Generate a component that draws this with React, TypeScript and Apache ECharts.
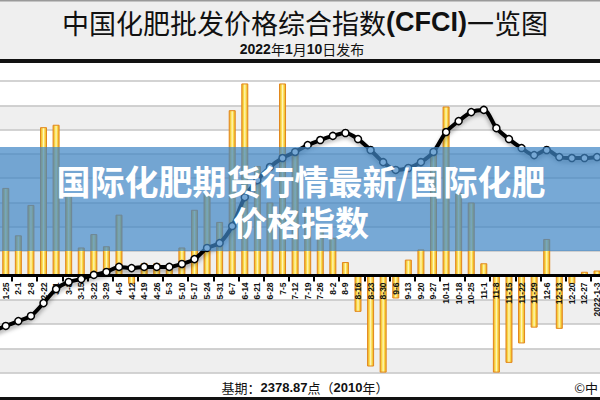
import React, { useEffect, useRef } from "react";
import * as echarts from "echarts";

const categories = ['1-18','1-25','2-1','2-8','2-22','3-1','3-8','3-15','3-22','3-29','4-5','4-12','4-19','4-26','5-3','5-10','5-17','5-24','5-31','6-7','6-14','6-21','6-28','7-5','7-12','7-19','7-26','8-2','8-9','8-16','8-23','8-30','9-6','9-13','9-20','9-27','10-11','10-18','10-25','11-1','11-8','11-15','11-22','11-29','12-6','12-13','12-20','12-27','2022-1-3','2022-1-10'];

const changeValues = [2.0, 3.6, 1.65, 2.9, 6.1, 6.2, 3.3, 1.15, 1.7, 1.2,
  2.5, -0.35, 0.5, 0.5, 0.4, 1.15, 2.7, 3.4, 2.2, 6.8,
  7.9, 4.5, 3.0, 7.9, 5.0, 2.8, 1.9, 1.55, 0.55, -1.5,
  -3.75, -4.0, -0.95, 0.65, 1.07, 5.1, 6.95, 3.4, 3.0, 0.5,
  -4.0, -3.6, -2.8, -2.15, 1.5, -2.2, -0.35, 0.15, 0.2, 0.2];

const indexValues = [2371, 2392, 2412, 2433, 2486, 2544, 2573, 2585, 2602, 2614,
  2635, 2630, 2635, 2635, 2635, 2647, 2667, 2713, 2733, 2803,
  2922, 2992, 3046, 3083, 3108, 3136, 3157, 3174, 3186, 3161,
  3116, 3066, 3034, 3042, 3066, 3108, 3190, 3235, 3272, 3281,
  3206, 3161, 3124, 3095, 3116, 3087, 3083, 3083, 3087, 3091];

const titleText = "中国化肥批发价格综合指数";
const titleCode = "(CFCI)";
const titleTail = "一览图";
const bannerLine1 = "国际化肥期货行情最新/国际化肥";
const bannerLine2 = "价格指数";

export default function App() {
  const ref = useRef<HTMLDivElement>(null);
  useEffect(() => {
    document.body.style.margin = "0";
    const chart = echarts.init(ref.current!, null, { renderer: "svg" });
    const cjk = "'Noto Sans CJK SC', sans-serif";
    const lat = "'Liberation Sans', Arial, sans-serif";
    const barColor = new echarts.graphic.LinearGradient(0, 0, 1, 0, [
      { offset: 0, color: "#eea62a" },
      { offset: 0.28, color: "#f9da45" },
      { offset: 0.5, color: "#fff6bd" },
      { offset: 0.72, color: "#f9da45" },
      { offset: 1, color: "#eea62a" },
    ]);
    const gridTop = 81;
    const gridBottomPx = 372.6;
    const yMin = -4;
    const yMax = 8;
    const zeroOffset = ((gridBottomPx - gridTop) * (0 - yMin)) / (yMax - yMin);
    chart.setOption({
      animation: false,
      backgroundColor: "#ffffff",
      grid: {
        left: -13.1,
        right: -15.9,
        top: gridTop,
        bottom: 400 - gridBottomPx,
        containLabel: false,
        outerBoundsMode: "none",
      },
      xAxis: {
        type: "category",
        data: categories,
        z: 6,
        position: "bottom",
        offset: -zeroOffset,
        axisLine: { show: true, onZero: false, lineStyle: { color: "#000", width: 3 } },
        axisTick: { show: true, interval: 1, length: 6, lineStyle: { color: "#000", width: 2 } },
        axisLabel: {
          interval: 0,
          rotate: 90,
          margin: 7,
          fontSize: 8.5,
          fontWeight: "bold",
          fontFamily: lat,
          color: "#111",
          formatter: (v: string, i: number) => (i === 0 || i === categories.length - 1 ? "" : v),
        },
        splitLine: { show: false },
      },
      yAxis: [
        {
          type: "value",
          min: yMin,
          max: yMax,
          interval: 1,
          axisLine: { show: false },
          axisTick: { show: false },
          axisLabel: { show: false },
          splitLine: { show: true, lineStyle: { color: "#c4c4c4", width: 1.5 } },
          splitArea: { show: true, areaStyle: { color: ["#efefef", "#ffffff"] } },
        },
        {
          type: "value",
          min: 2200,
          max: 3400,
          interval: 100,
          axisLine: { show: false },
          axisTick: { show: false },
          axisLabel: { show: false },
          splitLine: { show: false },
        },
      ],
      series: [
        {
          type: "bar",
          data: changeValues,
          barWidth: 7,
          z: 2,
          itemStyle: { color: barColor, borderColor: "#e2871c", borderWidth: 1 },
        },
        {
          type: "line",
          yAxisIndex: 1,
          data: indexValues,
          smooth: 0.3,
          z: 8,
          symbol: "circle",
          symbolSize: 7,
          lineStyle: {
            color: "#000",
            width: 4,
            shadowColor: "rgba(0,0,0,0.35)",
            shadowBlur: 4,
            shadowOffsetY: 3,
          },
          itemStyle: { color: "#ffffff", borderColor: "#000", borderWidth: 1.5 },
        },
      ],
      graphic: [
        { type: "rect", z: 20, shape: { x: 0, y: 0, width: 600, height: 60 }, style: { fill: "#efefef" } },
        { type: "rect", z: 20, shape: { x: 0, y: 0, width: 600, height: 1.5 }, style: { fill: "#9a9a9a" } },
        { type: "rect", z: 20, shape: { x: 0, y: 59, width: 600, height: 4 }, style: { fill: "#111" } },
        {
          type: "text",
          z: 21,
          x: 305,
          y: 22,
          style: {
            text: `{a|${titleText}}{b|${titleCode}}{a|${titleTail}}`,
            textAlign: "center",
            align: "center",
            textVerticalAlign: "middle",
            verticalAlign: "middle",
            rich: {
              a: { fontFamily: cjk, fontSize: 27, lineHeight: 27, fill: "#111", color: "#111" },
              b: { fontFamily: lat, fontSize: 27, lineHeight: 27, fontWeight: "bold", fill: "#111", color: "#111" },
            },
          },
        },
        {
          type: "text",
          z: 21,
          x: 302,
          y: 49,
          style: {
            text: "{n|2022}{c|年}{n|1}{c|月}{n|10}{c|日发布}",
            textAlign: "center",
            align: "center",
            textVerticalAlign: "middle",
            verticalAlign: "middle",
            rich: {
              n: { fontFamily: lat, fontSize: 14, lineHeight: 14, fontWeight: "bold", fill: "#111", color: "#111" },
              c: { fontFamily: cjk, fontSize: 14, lineHeight: 14, fill: "#111", color: "#111" },
            },
          },
        },
        {
          type: "text",
          z: 21,
          x: 305,
          y: 387,
          style: {
            text: "{c|基期：}{n|2378.87}{c|点（}{n|2010}{c|年）}",
            textAlign: "center",
            align: "center",
            textVerticalAlign: "middle",
            verticalAlign: "middle",
            rich: {
              n: { fontFamily: lat, fontSize: 13, lineHeight: 14, fontWeight: "bold", fill: "#111", color: "#111" },
              c: { fontFamily: cjk, fontSize: 13, lineHeight: 14, fill: "#111", color: "#111" },
            },
          },
        },
        {
          type: "text",
          z: 21,
          x: 598,
          y: 387,
          style: {
            text: "©中",
            font: `13px ${cjk}`,
            fill: "#111",
            textAlign: "right",
            align: "right",
            textVerticalAlign: "middle",
            verticalAlign: "middle",
          },
        },
        { type: "rect", z: 20, shape: { x: 0, y: 397, width: 600, height: 3 }, style: { fill: "#111" } },
        { type: "rect", z: 30, shape: { x: 0, y: 147, width: 600, height: 104 }, style: { fill: "rgba(63,134,197,0.71)" } },
        {
          type: "text",
          z: 31,
          x: 301,
          y: 201,
          style: {
            text: `${bannerLine1}\n${bannerLine2}`,
            font: `bold 34px ${cjk}`,
            lineHeight: 41,
            fill: "#ffffff",
            textAlign: "center",
            align: "center",
            textVerticalAlign: "middle",
            verticalAlign: "middle",
            shadowColor: "rgba(0,0,0,0.3)",
            shadowBlur: 3,
          },
        },
      ],
    });
    return () => chart.dispose();
  }, []);
  return (
    <div
      ref={ref}
      style={{ position: "fixed", left: 0, top: 0, width: 600, height: 400 }}
    />
  );
}
